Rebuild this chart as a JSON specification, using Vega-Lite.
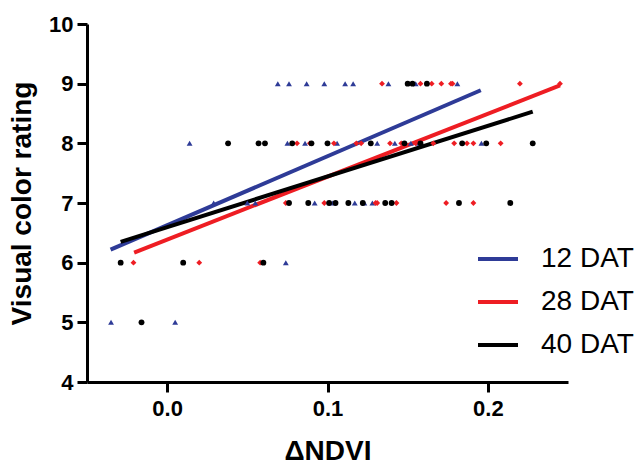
{
  "$schema": "https://vega.github.io/schema/vega-lite/v6.json",
  "width": 481,
  "height": 358,
  "autosize": "none",
  "padding": {"left": 87, "top": 24, "right": 72, "bottom": 82},
  "background": "white",
  "config": {
    "view": {"stroke": null},
    "font": "Liberation Sans",
    "axis": {
      "grid": false,
      "domainColor": "black",
      "domainWidth": 3,
      "tickColor": "black",
      "tickWidth": 3,
      "tickSize": 10,
      "labelFont": "Liberation Sans",
      "labelFontWeight": "bold",
      "labelFontSize": 22,
      "labelColor": "black",
      "titleFont": "Liberation Sans",
      "titleFontWeight": "bold",
      "titleFontSize": 28,
      "titleColor": "black"
    }
  },
  "datasets": {
    "points": [
      {"set": "12", "ndvi": 0.069, "rating": 9},
      {"set": "12", "ndvi": 0.076, "rating": 9},
      {"set": "12", "ndvi": 0.087, "rating": 9},
      {"set": "12", "ndvi": 0.098, "rating": 9},
      {"set": "12", "ndvi": 0.111, "rating": 9},
      {"set": "12", "ndvi": 0.116, "rating": 9},
      {"set": "12", "ndvi": 0.138, "rating": 9},
      {"set": "12", "ndvi": 0.155, "rating": 9},
      {"set": "12", "ndvi": 0.181, "rating": 9},
      {"set": "12", "ndvi": 0.014, "rating": 8},
      {"set": "12", "ndvi": 0.075, "rating": 8},
      {"set": "12", "ndvi": 0.086, "rating": 8},
      {"set": "12", "ndvi": 0.106, "rating": 8},
      {"set": "12", "ndvi": 0.131, "rating": 8},
      {"set": "12", "ndvi": 0.142, "rating": 8},
      {"set": "12", "ndvi": 0.152, "rating": 8},
      {"set": "12", "ndvi": 0.157, "rating": 8},
      {"set": "12", "ndvi": 0.196, "rating": 8},
      {"set": "12", "ndvi": 0.029, "rating": 7},
      {"set": "12", "ndvi": 0.050, "rating": 7},
      {"set": "12", "ndvi": 0.055, "rating": 7},
      {"set": "12", "ndvi": 0.092, "rating": 7},
      {"set": "12", "ndvi": 0.103, "rating": 7},
      {"set": "12", "ndvi": 0.117, "rating": 7},
      {"set": "12", "ndvi": 0.123, "rating": 7},
      {"set": "12", "ndvi": 0.128, "rating": 7},
      {"set": "12", "ndvi": 0.074, "rating": 6},
      {"set": "12", "ndvi": -0.035, "rating": 5},
      {"set": "12", "ndvi": 0.005, "rating": 5},
      {"set": "28", "ndvi": 0.134, "rating": 9},
      {"set": "28", "ndvi": 0.158, "rating": 9},
      {"set": "28", "ndvi": 0.165, "rating": 9},
      {"set": "28", "ndvi": 0.171, "rating": 9},
      {"set": "28", "ndvi": 0.177, "rating": 9},
      {"set": "28", "ndvi": 0.178, "rating": 9},
      {"set": "28", "ndvi": 0.220, "rating": 9},
      {"set": "28", "ndvi": 0.245, "rating": 9},
      {"set": "28", "ndvi": 0.081, "rating": 8},
      {"set": "28", "ndvi": 0.089, "rating": 8},
      {"set": "28", "ndvi": 0.104, "rating": 8},
      {"set": "28", "ndvi": 0.118, "rating": 8},
      {"set": "28", "ndvi": 0.121, "rating": 8},
      {"set": "28", "ndvi": 0.139, "rating": 8},
      {"set": "28", "ndvi": 0.146, "rating": 8},
      {"set": "28", "ndvi": 0.155, "rating": 8},
      {"set": "28", "ndvi": 0.166, "rating": 8},
      {"set": "28", "ndvi": 0.179, "rating": 8},
      {"set": "28", "ndvi": 0.187, "rating": 8},
      {"set": "28", "ndvi": 0.191, "rating": 8},
      {"set": "28", "ndvi": 0.208, "rating": 8},
      {"set": "28", "ndvi": 0.074, "rating": 7},
      {"set": "28", "ndvi": 0.098, "rating": 7},
      {"set": "28", "ndvi": 0.130, "rating": 7},
      {"set": "28", "ndvi": 0.131, "rating": 7},
      {"set": "28", "ndvi": 0.143, "rating": 7},
      {"set": "28", "ndvi": 0.174, "rating": 7},
      {"set": "28", "ndvi": 0.191, "rating": 7},
      {"set": "28", "ndvi": -0.021, "rating": 6},
      {"set": "28", "ndvi": 0.020, "rating": 6},
      {"set": "28", "ndvi": 0.058, "rating": 6},
      {"set": "40", "ndvi": 0.150, "rating": 9},
      {"set": "40", "ndvi": 0.153, "rating": 9},
      {"set": "40", "ndvi": 0.162, "rating": 9},
      {"set": "40", "ndvi": 0.038, "rating": 8},
      {"set": "40", "ndvi": 0.057, "rating": 8},
      {"set": "40", "ndvi": 0.061, "rating": 8},
      {"set": "40", "ndvi": 0.078, "rating": 8},
      {"set": "40", "ndvi": 0.090, "rating": 8},
      {"set": "40", "ndvi": 0.100, "rating": 8},
      {"set": "40", "ndvi": 0.127, "rating": 8},
      {"set": "40", "ndvi": 0.148, "rating": 8},
      {"set": "40", "ndvi": 0.158, "rating": 8},
      {"set": "40", "ndvi": 0.184, "rating": 8},
      {"set": "40", "ndvi": 0.199, "rating": 8},
      {"set": "40", "ndvi": 0.228, "rating": 8},
      {"set": "40", "ndvi": 0.076, "rating": 7},
      {"set": "40", "ndvi": 0.088, "rating": 7},
      {"set": "40", "ndvi": 0.101, "rating": 7},
      {"set": "40", "ndvi": 0.105, "rating": 7},
      {"set": "40", "ndvi": 0.113, "rating": 7},
      {"set": "40", "ndvi": 0.122, "rating": 7},
      {"set": "40", "ndvi": 0.136, "rating": 7},
      {"set": "40", "ndvi": 0.140, "rating": 7},
      {"set": "40", "ndvi": 0.182, "rating": 7},
      {"set": "40", "ndvi": 0.214, "rating": 7},
      {"set": "40", "ndvi": -0.029, "rating": 6},
      {"set": "40", "ndvi": 0.010, "rating": 6},
      {"set": "40", "ndvi": 0.060, "rating": 6},
      {"set": "40", "ndvi": -0.016, "rating": 5}
    ],
    "fits": [
      {"group": "12 DAT", "ndvi": -0.0353, "rating": 6.22},
      {"group": "12 DAT", "ndvi": 0.1956, "rating": 8.89},
      {"group": "28 DAT", "ndvi": -0.0206, "rating": 6.17},
      {"group": "28 DAT", "ndvi": 0.245, "rating": 8.97},
      {"group": "40 DAT", "ndvi": -0.029, "rating": 6.35},
      {"group": "40 DAT", "ndvi": 0.228, "rating": 8.53}
    ]
  },
  "layer": [
    {
      "data": {"name": "fits"},
      "mark": {"type": "line", "strokeWidth": 4, "strokeCap": "butt"},
      "encoding": {
        "x": {
          "field": "ndvi", "type": "quantitative", "title": "ΔNDVI",
          "scale": {"domain": [-0.05, 0.25], "nice": false, "zero": false},
          "axis": {"values": [0, 0.1, 0.2], "format": ".1f", "labelPadding": 6, "titlePadding": 18}
        },
        "y": {
          "field": "rating", "type": "quantitative", "title": "Visual color rating",
          "scale": {"domain": [4, 10], "nice": false, "zero": false},
          "axis": {"values": [4, 5, 6, 7, 8, 9, 10], "format": "d", "labelPadding": 4, "titlePadding": 12}
        },
        "color": {
          "field": "group", "type": "nominal",
          "scale": {"domain": ["12 DAT", "28 DAT", "40 DAT"], "range": ["#2E3B97", "#EE1D23", "#000000"]},
          "legend": {
            "title": null,
            "orient": "none",
            "legendX": 389,
            "legendY": 213,
            "padding": 0,
            "symbolType": "stroke",
            "symbolSize": 1600,
            "symbolStrokeWidth": 4,
            "labelFont": "Liberation Sans",
            "labelFontSize": 28,
            "labelColor": "black",
            "labelOffset": 21,
            "rowPadding": 7,
            "labelLimit": 300
          }
        }
      }
    },
    {
      "data": {"name": "points"},
      "mark": {"type": "point", "filled": true, "size": 34, "opacity": 1, "strokeWidth": 0},
      "encoding": {
        "x": {"field": "ndvi", "type": "quantitative"},
        "y": {"field": "rating", "type": "quantitative"},
        "fill": {
          "field": "set", "type": "nominal",
          "scale": {"domain": ["12", "28", "40"], "range": ["#2E3B97", "#EE1D23", "#000000"]},
          "legend": null
        },
        "shape": {
          "field": "set", "type": "nominal",
          "scale": {"domain": ["12", "28", "40"], "range": ["triangle-up", "diamond", "circle"]},
          "legend": null
        }
      }
    }
  ]
}
